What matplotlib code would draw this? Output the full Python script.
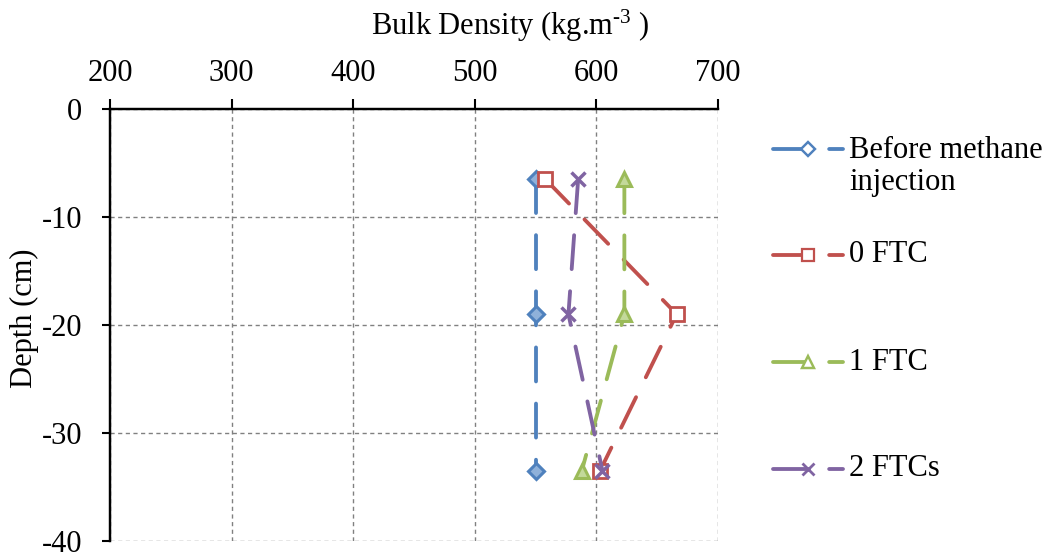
import matplotlib
matplotlib.use("Agg")
import matplotlib.pyplot as plt

plt.rcParams["font.family"] = ["Liberation Serif", "DejaVu Serif"]
plt.rcParams["mathtext.fontset"] = "custom"
plt.rcParams["mathtext.rm"] = "Liberation Serif"
plt.rcParams["mathtext.it"] = "Liberation Serif:italic"
plt.rcParams["mathtext.default"] = "regular"
plt.rcParams["axes.unicode_minus"] = False

# Sampling depths (cm, negative = below surface)
depths = [-6.5, -19.0, -33.5]

# Bulk density profiles (kg/m3)
series_names = ["Before methane\ninjection", "0 FTC", "1 FTC", "2 FTCs"]
before_injection = [550, 550, 550]
ftc_0 = [558, 666, 603]
ftc_1 = [623, 623, 588]
ftc_2 = [585, 577, 605]

x_ticks = [200, 300, 400, 500, 600, 700]
y_ticks = [0, -10, -20, -30, -40]

colors = ["#4F81BD", "#C0504D", "#9BBB59", "#8064A2"]
fills = ["#8FB1DA", "white", "#C3D99A", "white"]
markers = ["D", "s", "^", "x"]
msizes = [8.5, 9.5, 10, 10]
mews = [2.2, 2.0, 2.2, 2.5]
dash = (0, (8.9, 5.8))
LW = 2.75
FS = 22

W, H = 1057, 552
fig = plt.figure(figsize=(W / 100, H / 100), dpi=100)
ax = fig.add_axes([110 / W, (H - 541) / H, 608 / W, 432 / H])

values = [before_injection, ftc_0, ftc_1, ftc_2]
for vals, c, fc, m, ms, mew in zip(values, colors, fills, markers, msizes, mews):
    ax.plot(vals, depths, color=c, lw=LW, linestyle=dash, dash_capstyle="round",
            solid_capstyle="round", marker=m, markersize=ms, markeredgewidth=mew,
            markerfacecolor=fc, markeredgecolor=c, clip_on=False)

ax.set_xlim(200, 700)
ax.set_ylim(-40, 0)
ax.set_xticks(x_ticks)
ax.set_yticks(y_ticks)

ax.xaxis.tick_top()
ax.tick_params(axis="x", which="both", top=True, bottom=False, direction="out",
               length=7, width=1.5, pad=8, labelsize=FS)
ax.tick_params(axis="y", direction="out", length=6, width=1.5, pad=14, labelsize=FS)

for side in ("right", "bottom"):
    ax.spines[side].set_visible(False)
for side in ("top", "left"):
    ax.spines[side].set_linewidth(1.75)
    ax.spines[side].set_color("black")

ax.grid(True, color="#808080", linestyle=(0, (3, 2.5)), linewidth=1.0)
ax.set_axisbelow(True)

ax.xaxis.set_label_position("top")
ax.set_xlabel(r"Bulk Density (kg.m$^{\text{-}3}$ )", fontsize=FS)
ax.xaxis.label.set_va("center")
ax.xaxis.set_label_coords((510 - 110) / 608, (541 - 26) / 432)

ax.set_ylabel("Depth (cm)", fontsize=FS)
ax.yaxis.label.set_va("center")
ax.yaxis.set_label_coords((24 - 110) / 608, (541 - 318) / 432)

# Legend drawn in figure pixel coordinates
leg = fig.add_axes([0, 0, 1, 1])
leg.set_xlim(0, W)
leg.set_ylim(H, 0)
leg.axis("off")
leg_y = [149, 255, 362, 469]
for name, c, m, ms, mew, y in zip(series_names, colors, markers, msizes, mews, leg_y):
    leg.plot([773, 843], [y, y], color=c, lw=LW, linestyle=dash,
             dash_capstyle="round", solid_capstyle="round")
    leg.plot([808], [y], color=c, marker=m, markersize=ms * 0.85, markeredgewidth=mew * 0.8,
             markerfacecolor="white", markeredgecolor=c, linestyle="none")
    if "\n" in name:
        leg.text(849, y - 13, name, fontsize=FS, va="top", ha="left", linespacing=1.15)
    else:
        leg.text(849, y, name, fontsize=FS, va="center", ha="left")

fig.savefig("out.png", dpi=100)
